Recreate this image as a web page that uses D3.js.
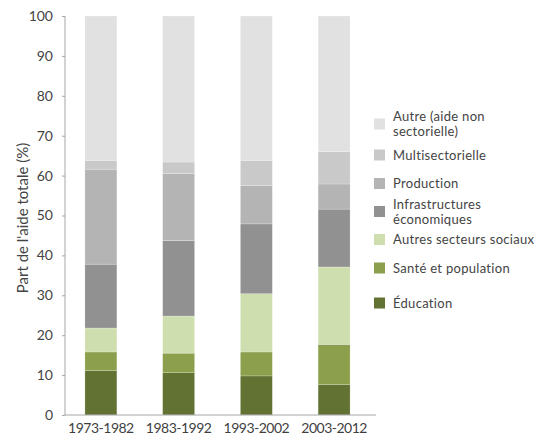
<!DOCTYPE html>
<html>
<head>
<meta charset="utf-8">
<script src="https://cdn.jsdelivr.net/npm/d3@7"></script>
<style>
  body { margin: 0; background: #fff; }
  svg { display: block; font-family: Lato, 'Open Sans', sans-serif; }
</style>
</head>
<body>
<div id="chart"></div>
<script>
// periods on the x axis
const periods = ['1973-1982', '1983-1992', '1993-2002', '2003-2012'];

// sector shares (% of total aid), bottom to top
const education = [11.1, 10.6, 9.8, 7.6];
const sante = [4.7, 4.9, 6.0, 10.1];
const autresSociaux = [6.0, 9.3, 14.6, 19.4];
const infrastructures = [16.0, 18.9, 17.5, 14.5];
const production = [23.8, 16.8, 9.6, 6.3];
const multisectorielle = [2.2, 2.9, 6.3, 8.1];
const autre = [36.2, 36.6, 36.2, 34.0];

const yTicks = [0, 10, 20, 30, 40, 50, 60, 70, 80, 90, 100];

const keys = ['education', 'sante', 'autresSociaux', 'infrastructures', 'production', 'multisectorielle', 'autre'];
const labels = {
  education: ['Éducation'],
  sante: ['Santé et population'],
  autresSociaux: ['Autres secteurs sociaux'],
  infrastructures: ['Infrastructures', 'économiques'],
  production: ['Production'],
  multisectorielle: ['Multisectorielle'],
  autre: ['Autre (aide non', 'sectorielle)']
};
const colors = {
  education: '#627233',
  sante: '#8b9f4c',
  autresSociaux: '#cfdeae',
  infrastructures: '#919191',
  production: '#b3b4b3',
  multisectorielle: '#c9c9c9',
  autre: '#e1e1e1'
};

// build table rows for the stack generator
const series = { education, sante, autresSociaux, infrastructures, production, multisectorielle, autre };
const rows = periods.map((p, i) => {
  const r = { period: p };
  keys.forEach(k => { r[k] = series[k][i]; });
  return r;
});

const width = 555;
const height = 438;
const plotLeft = 65, plotRight = 376, plotTop = 16, plotBottom = 415;

const svg = d3.select('#chart')
  .append('svg')
  .attr('width', width)
  .attr('height', height);

const x = d3.scaleBand()
  .domain(periods)
  .range([62, 373])
  .paddingInner(0.589)
  .paddingOuter(0.295);

const y = d3.scaleLinear()
  .domain([0, 100])
  .range([plotBottom, plotTop]);

const stacked = d3.stack().keys(keys)(rows);

// bars
svg.append('g')
  .selectAll('g')
  .data(stacked)
  .join('g')
  .attr('fill', d => colors[d.key])
  .selectAll('rect')
  .data(d => d)
  .join('rect')
  .attr('x', d => x(d.data.period))
  .attr('width', x.bandwidth())
  .attr('y', d => y(d[1]))
  .attr('height', d => y(d[0]) - y(d[1]))
  .attr('stroke', '#ffffff')
  .attr('stroke-opacity', 0.35)
  .attr('stroke-width', 0.6);

// y axis
const yAxis = svg.append('g')
  .attr('transform', `translate(${plotLeft},0)`)
  .call(d3.axisLeft(y).tickValues(yTicks).tickSize(3).tickPadding(9));
yAxis.select('.domain').attr('stroke', '#a6a6a6').attr('d', `M0,${plotTop}V${plotBottom}`);
yAxis.selectAll('.tick line').attr('stroke', '#a6a6a6');
yAxis.selectAll('.tick text')
  .attr('fill', '#444')
  .style('font-size', '14px')
  .style('font-family', 'Lato, sans-serif');

// x axis
const xAxis = svg.append('g')
  .attr('transform', `translate(0,${plotBottom})`)
  .call(d3.axisBottom(x).tickSize(0).tickPadding(8));
xAxis.select('.domain').attr('stroke', '#a6a6a6').attr('d', `M${plotLeft},0H${plotRight}`);
xAxis.selectAll('.tick text')
  .attr('fill', '#3f3f3f')
  .style('font-size', '14px')
  .style('letter-spacing', '-0.5px')
  .style('font-family', 'Lato, sans-serif');

// y axis title
svg.append('text')
  .attr('transform', `translate(28,218) rotate(-90)`)
  .attr('text-anchor', 'middle')
  .attr('fill', '#444')
  .style('font-size', '15px')
  .text("Part de l'aide totale (%)");

// legend (top to bottom)
const legendKeys = keys.slice().reverse();
const legendCenters = [124, 155, 183.5, 211.5, 239.5, 268, 303];
const legend = svg.append('g').attr('transform', 'translate(374,0)');

const item = legend.selectAll('g')
  .data(legendKeys)
  .join('g')
  .attr('transform', (d, i) => `translate(0,${legendCenters[i]})`);

item.append('rect')
  .attr('x', 0)
  .attr('y', -5.5)
  .attr('width', 11)
  .attr('height', 11)
  .attr('fill', d => colors[d]);

item.append('text')
  .attr('x', 19)
  .attr('fill', '#444')
  .style('font-size', '13px')
  .style('letter-spacing', '0.3px')
  .each(function(d) {
    const lines = labels[d];
    const t = d3.select(this);
    lines.forEach((l, j) => {
      t.append('tspan')
        .attr('x', 19)
        .attr('y', (j - (lines.length - 1) / 2) * 15)
        .attr('dy', '0.35em')
        .text(l);
    });
  });
</script>
</body>
</html>
